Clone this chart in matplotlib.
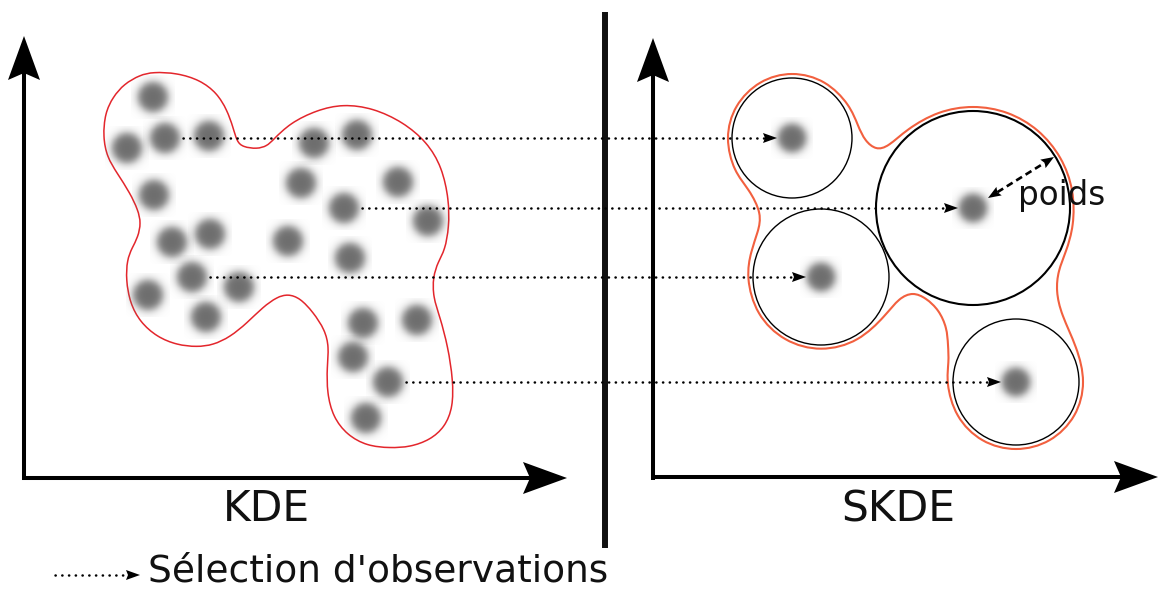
"""
KDE vs SKDE diagram: observations and the kernels kept after selection.
Everything is laid out in pixel coordinates (y downwards) on one full-figure axes.
"""
import numpy as np
import matplotlib
matplotlib.use("Agg")
import matplotlib.pyplot as plt
from matplotlib.patches import Polygon, Circle, PathPatch
from matplotlib.path import Path

W, H = 1160, 590

# observations in the KDE panel
obs_x = [153, 127, 165, 209, 314, 357, 154, 301, 398, 344, 428, 172,
         210, 288, 350, 192, 239, 148, 206, 363, 417, 353, 388, 366]
obs_y = [97, 148, 138, 136, 143, 135, 195, 183, 182, 208, 221, 242,
         234, 241, 258, 277, 287, 295, 317, 323, 320, 357, 382, 418]

# selected observations and their SKDE kernels (centre x, radius = weight)
sel_idx = [2, 9, 15, 22]
skde_x = [792, 973, 821, 1016]
skde_r = [60, 97, 68, 63]

# KDE level line (spline control points)
kde_cx = [140, 153, 177, 200, 217, 227, 233, 237, 243, 257, 267, 273, 290, 317,
          343, 373, 403, 427, 442, 449, 449, 445, 438, 433, 433, 440, 448, 453,
          453, 445, 430, 410, 390, 367, 347, 333, 327, 327, 329, 325, 313, 300,
          288, 277, 263, 247, 230, 213, 197, 177, 157, 140, 130, 126, 127, 132,
          138, 141, 138, 130, 117, 107, 103, 105, 113, 124]
kde_cy = [75, 72, 73, 80, 93, 110, 127, 142, 147, 149, 146, 140, 123, 110,
          104, 108, 122, 142, 167, 200, 227, 250, 262, 277, 297, 317, 347, 380,
          407, 427, 440, 447, 448, 446, 435, 417, 393, 367, 347, 330, 312, 298,
          294, 297, 307, 323, 337, 345, 347, 345, 337, 322, 303, 280, 260, 248,
          237, 223, 210, 193, 173, 157, 137, 113, 97, 84]

# SKDE level line (spline control points)
skde_cx = [792, 826, 850, 858, 865, 876, 888, 907, 938, 973, 1008, 1039, 1062,
           1074, 1074, 1066, 1058, 1056, 1061, 1077, 1086, 1077, 1051, 1016,
           981, 955, 946, 949, 948, 947, 939, 926, 913, 899, 886, 859, 821, 784,
           756, 746, 751, 758, 762, 749, 734, 725, 734, 759]
skde_cy = [71, 80, 105, 126, 141, 150, 147, 129, 111, 105, 111, 129, 157,
           190, 226, 252, 271, 291, 314, 347, 382, 417, 443, 452,
           443, 417, 382, 362, 345, 328, 310, 298, 292, 298, 315, 342, 352, 342,
           315, 277, 251, 232, 214, 189, 172, 138, 105, 80]


def smooth_closed(xs, ys):
    # closed uniform cubic B-spline on the control points, as Bezier segments
    p = np.column_stack([xs, ys]).astype(float)
    n = len(p)
    verts, codes = [], []
    for i in range(n):
        p0, p1, p2, p3 = p[i - 1], p[i], p[(i + 1) % n], p[(i + 2) % n]
        if i == 0:
            verts.append((p0 + 4 * p1 + p2) / 6)
            codes.append(Path.MOVETO)
        verts += [(2 * p1 + p2) / 3, (p1 + 2 * p2) / 3, (p1 + 4 * p2 + p3) / 6]
        codes += [Path.CURVE4] * 3
    return Path(verts, codes)


def head(ax, tip, direction, length, width, notch, color="black", z=5):
    u = np.asarray(direction, float)
    u /= np.hypot(*u)
    nrm = np.array([-u[1], u[0]])
    tip = np.asarray(tip, float)
    base = tip - length * u
    pts = [tip, base + width / 2 * nrm, base + notch * u, base - width / 2 * nrm]
    ax.add_patch(Polygon(pts, closed=True, fc=color, ec="none", zorder=z))
    return base + notch * u


def axis_arrow(ax, start, tip):
    d = np.subtract(tip, start)
    b = head(ax, tip, d, 44, 32, 7)
    ax.plot([start[0], b[0]], [start[1], b[1]], color="black", lw=2.9,
            solid_capstyle="butt", zorder=4)


def dotted_arrow(ax, x0, x1, y):
    b = head(ax, (x1, y), (1, 0), 14, 10, 2, z=7)
    ax.plot([x0, b[0]], [y, y], color="black", lw=1.8, ls=(0, (0.1, 2.6)),
            dash_capstyle="round", zorder=6)


sprite_n = 51
g = np.linspace(-1, 1, sprite_n)
rr = np.hypot(*np.meshgrid(g, g))
sprite = np.zeros((sprite_n, sprite_n, 4))
sprite[..., :3] = 0.43
sprite[..., 3] = 1 / (1 + np.exp((rr - 0.68) / 0.12))


def blur_dot(ax, x, y, R=22):
    ax.imshow(sprite, extent=(x - R, x + R, y + R, y - R), interpolation="bilinear",
              aspect="auto", zorder=3)


fig = plt.figure(figsize=(W / 100, H / 100), dpi=100)
ax = fig.add_axes([0, 0, 1, 1])

# KDE panel
ax.add_patch(PathPatch(smooth_closed(kde_cx, kde_cy), fc="none", ec="#e3262c",
                       lw=1.1, zorder=2))
for x, y in zip(obs_x, obs_y):
    blur_dot(ax, x, y)
axis_arrow(ax, (24, 480), (24, 36))
axis_arrow(ax, (22, 478), (567, 478))
ax.text(266, 521, "KDE", fontsize=30.5, ha="center", va="baseline", color="#111111")

# separator
ax.plot([605, 605], [12, 548], color="#111111", lw=4.3, solid_capstyle="butt", zorder=4)

# SKDE panel
ax.add_patch(PathPatch(smooth_closed(skde_cx, skde_cy), fc="none", ec="#f2603f",
                       lw=1.5, zorder=2))
for i, (x, r) in enumerate(zip(skde_x, skde_r)):
    y = obs_y[sel_idx[i]]
    ax.add_patch(Circle((x, y), r, fc="none", ec="black",
                        lw=1.5 if r > 90 else 1.0, zorder=3))
    blur_dot(ax, x, y, R=21)
axis_arrow(ax, (653, 480), (653, 38))
axis_arrow(ax, (651, 477), (1158, 477))
ax.text(898, 521, "SKDE", fontsize=30.5, ha="center", va="baseline", color="#111111")

# selection arrows from KDE observations to SKDE kernels
for i, x in zip(sel_idx, skde_x):
    dotted_arrow(ax, obs_x[i] + 18, x - 15, obs_y[i])

# weight (radius) of the big kernel
bx, by = skde_x[1], obs_y[sel_idx[1]]
p0 = np.array([bx + 15, by - 10])
p1 = np.array([1054, 157])
u = p1 - p0
a0 = head(ax, p0, -u, 13, 10, 2)
a1 = head(ax, p1, u, 13, 10, 2)
ax.plot([a0[0], a1[0]], [a0[1], a1[1]], color="black", lw=1.9, ls=(0, (2.6, 1.6)),
        zorder=6)
ax.text(1018, 196, "poids", fontsize=23.5, ha="left", va="center", color="#111111")

# legend
dotted_arrow(ax, 55, 140, 575)
ax.text(148, 589, "Sélection d'observations", fontsize=27, ha="left", va="bottom",
        color="#111111")

ax.set_xlim(0, W)
ax.set_ylim(H, 0)
ax.axis("off")
fig.savefig("out.png", dpi=100)
